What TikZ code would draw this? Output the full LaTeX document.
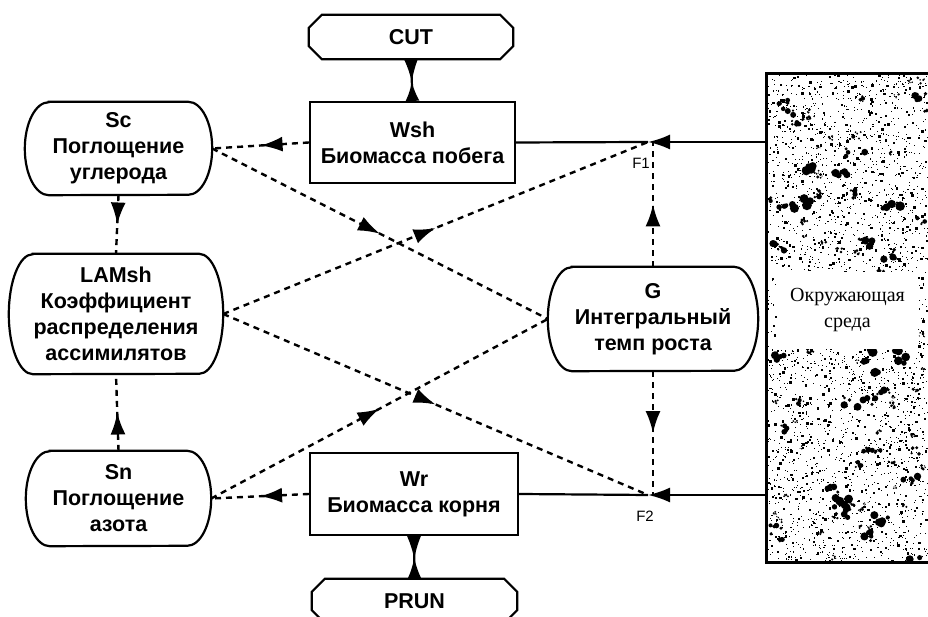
\documentclass[tikz,border=0pt]{standalone}
\usepackage{fontspec}
\setmainfont{Liberation Sans}
\newfontfamily\envfont{Liberation Serif}
\usetikzlibrary{arrows.meta,decorations.markings}

\tikzset{
  box/.style={draw, line width=2.2pt, inner sep=0pt, align=center,
    font=\fontsize{21.5}{26}\selectfont\bfseries},
  shape box/.style={inner sep=0pt, align=center,
    font=\fontsize{21.5}{26}\selectfont\bfseries},
  flow/.style={line width=2.4pt, dash pattern=on 6pt off 5pt},
  feed/.style={line width=2.2pt},
  mid/.style={postaction={decorate}, decoration={markings,
    mark=at position #1 with {\arrow{Latex[length=22pt,width=15pt]}}}},
}

% outline with bulging sides: node, bulge, half height
\newcommand\capsule[3]{%
  \draw[line width=2.2pt] ([xshift=#2]#1.north west) -- ([xshift=-#2]#1.north east)
    arc[start angle=90, end angle=-90, x radius=#2, y radius=#3]
    -- ([xshift=#2]#1.south west)
    arc[start angle=270, end angle=90, x radius=#2, y radius=#3] -- cycle;}
% outline with cut corners: node, chamfer
\newcommand\octbox[2]{%
  \draw[line width=2.2pt] ([xshift=#2]#1.north west) -- ([xshift=-#2]#1.north east)
    -- ([yshift=-#2]#1.north east) -- ([yshift=#2]#1.south east)
    -- ([xshift=-#2]#1.south east) -- ([xshift=#2]#1.south west)
    -- ([yshift=#2]#1.south west) -- ([yshift=-#2]#1.north west) -- cycle;}

\begin{document}
\begin{tikzpicture}[x=1pt,y=1pt]
    \useasboundingbox (0,0) rectangle (928,617);

    % environment with speckles
    \node[draw, line width=3pt, minimum width=180pt, minimum height=489pt, inner sep=0pt] (env) at (856,298.5) {};
    \begin{scope}
        \clip ([shift={(1.5,-1.5)}]env.north west) rectangle ([shift={(-1.5,1.5)}]env.south east);
        \pgfmathsetseed{4711}
        \foreach \i in {1,...,3000} {
            \pgfmathsetmacro\dx{766+rnd*165}
            \pgfmathsetmacro\dy{54+rnd*489}
            \pgfmathsetmacro\ds{0.9+2*pow(rnd,4)}
            \fill (\dx,\dy) rectangle ++(\ds,\ds);
        }
        \foreach \i in {1,...,110} {
            \pgfmathsetmacro\bx{768+rnd*162}
            \pgfmathsetmacro\by{56+rnd*485}
            \pgfmathsetmacro\bs{0.5+pow(rnd,3)*1.6}
            \foreach \j in {1,...,5} {
                \pgfmathsetmacro\ox{\bx+rand*5*\bs}
                \pgfmathsetmacro\oy{\by+rand*3.5*\bs}
                \pgfmathsetmacro\rr{(0.8+1.8*rnd)*\bs}
                \fill (\ox,\oy) circle (\rr);
            }
        }
    \end{scope}
    \node[fill=white, inner sep=0pt, minimum width=141pt, minimum height=77pt, align=center,
          font=\envfont\fontsize{20}{26}\selectfont] (envtext) at (847.5,306.5) {Окружающая\\среда};

    % blocks
    \node[shape box, minimum width=204pt, minimum height=44pt] (cut) at (411,580) {CUT};
    \octbox{cut}{13pt}
    \node[box, minimum width=205pt, minimum height=81pt] (wsh) at (412.5,474.5) {Wsh\\Биомасса побега};
    \node[box, minimum width=208pt, minimum height=82pt] (wr) at (414,123) {Wr\\Биомасса корня};
    \node[shape box, minimum width=205pt, minimum height=44pt] (prun) at (414.5,16) {PRUN};
    \octbox{prun}{13pt}

    \node[shape box, minimum width=187pt, minimum height=93pt] (sc) at (118.5,468.5) {Sc\\Поглощение\\углерода};
    \capsule{sc}{24pt}{46.5pt}
    \node[shape box, minimum width=214pt, minimum height=120pt] (lamsh) at (116,303) {LAMsh\\Коэффициент\\распределения\\ассимилятов};
    \capsule{lamsh}{24pt}{60pt}
    \node[shape box, minimum width=185pt, minimum height=95pt] (sn) at (118.5,118.5) {Sn\\Поглощение\\азота};
    \capsule{sn}{24pt}{47.5pt}
    \node[shape box, minimum width=210pt, minimum height=104pt] (g) at (653,298) {G\\Интегральный\\темп роста};
    \capsule{g}{24pt}{52pt}

    % junctions
    \coordinate (f1) at (648,475);
    \coordinate (f2) at (648,122);
    \node[font=\fontsize{15}{18}\selectfont] (f1lab) at (641,454) {F1};
    \node[font=\fontsize{15}{18}\selectfont] (f2lab) at (645,101) {F2};

    % material flows
    \draw[feed, -{Latex[length=22pt,width=15pt]}] (env.west |- f1) -- (f1);
    \draw[feed] (f1) -- (wsh.east);
    \draw[feed, -{Latex[length=22pt,width=15pt]}] (env.west |- f2) -- (f2);
    \draw[feed] (f2) -- (wr.east);
    \draw[feed, {Latex[reversed,length=23pt,width=14pt]}-{Latex[reversed,length=19pt,width=14pt]}] (cut.south) -- (wsh.north);
    \draw[feed, {Latex[reversed,length=23pt,width=14pt]}-{Latex[reversed,length=21pt,width=14pt]}] (wr.south) -- (prun.north);

    % information flows
    \draw[flow, mid=0.5] (wsh.west) -- (sc.east);
    \draw[flow, mid=0.5] (wr.west) -- (sn.east);
    \draw[flow, mid=0.5] (sc.south) -- (lamsh.north);
    \draw[flow, mid=0.5] (sn.north) -- (lamsh.south);
    \draw[flow, mid=0.5] (sc.east) -- (g.west);
    \draw[flow, mid=0.5] (sn.east) -- (g.west);
    \draw[flow, mid=0.5] (lamsh.east) -- (f1);
    \draw[flow, mid=0.5] (lamsh.east) -- (f2);
    \draw[flow, mid=0.5] (g.north) -- (g.north |- f1);
    \draw[flow, mid=0.5] (g.south) -- (g.south |- f2);
\end{tikzpicture}
\end{document}
